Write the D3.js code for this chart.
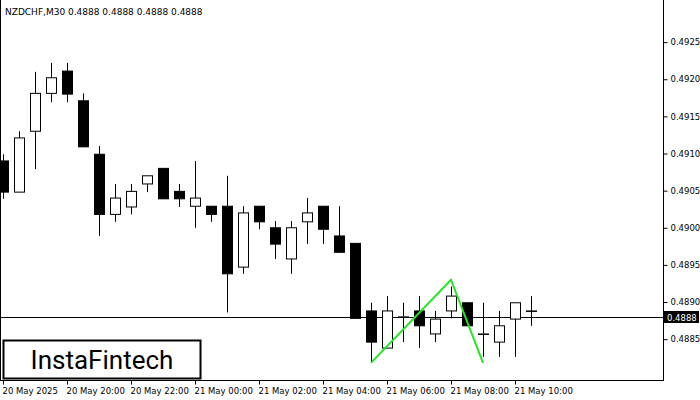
<!DOCTYPE html>
<html><head><meta charset="utf-8">
<script src="https://cdn.jsdelivr.net/npm/d3@7"></script>
<style>body{margin:0;background:#fff}svg{display:block}</style>
</head><body>
<svg id="c" width="700" height="400"></svg>
<script>
// 30-minute candles, 20 May 18:00 onwards
const opens  = [0.49090,0.49048,0.49130,0.49181,0.49211,0.49171,0.49099,0.49018,0.49028,0.49059,0.49080,0.49049,0.49029,0.49029,0.49029,0.48947,0.49029,0.49000,0.48958,0.49008,0.49029,0.48989,0.48979,0.48888,0.48838,0.48880,0.48888,0.48857,0.48888,0.48899,0.48857,0.48846,0.48877,0.48888]
const highs  = [0.49099,0.49130,0.49210,0.49222,0.49222,0.49181,0.49110,0.49059,0.49059,0.49070,0.49080,0.49059,0.49090,0.49029,0.49070,0.49029,0.49029,0.49009,0.49009,0.49040,0.49029,0.49029,0.48979,0.48899,0.48908,0.48899,0.48908,0.48888,0.48921,0.48899,0.48899,0.48888,0.48899,0.48908]
const lows   = [0.49039,0.49048,0.49079,0.49169,0.49169,0.49109,0.48989,0.49008,0.49018,0.49048,0.49039,0.49028,0.49000,0.49008,0.48886,0.48938,0.48998,0.48958,0.48938,0.48978,0.48978,0.48967,0.48878,0.48818,0.48838,0.48846,0.48838,0.48846,0.48878,0.48868,0.48826,0.48826,0.48826,0.48868]
const closes = [0.49048,0.49121,0.49181,0.49202,0.49180,0.49109,0.49018,0.49040,0.49049,0.49070,0.49039,0.49039,0.49040,0.49018,0.48938,0.49020,0.49008,0.48978,0.49000,0.49020,0.48998,0.48967,0.48878,0.48846,0.48888,0.48880,0.48868,0.48877,0.48908,0.48868,0.48857,0.48868,0.48899,0.48888]
const timeLabels = ['20 May 2025','20 May 20:00','20 May 22:00','21 May 00:00','21 May 02:00','21 May 04:00','21 May 06:00','21 May 08:00','21 May 10:00']
const timeLabelIdx = [0,4,8,12,16,20,24,28,32]
const priceTicks = [0.4885,0.4890,0.4895,0.4900,0.4905,0.4910,0.4915,0.4920,0.4925]
const patternIdx = [23,28,30]
const patternPrice = [0.48818,0.48930,0.48818]
const lastPrice = 0.4888

const svg = d3.select('#c')
const W = 663, plotTop = 5, plotBottom = 380
const x = d3.scaleLinear().domain([0, 1]).range([3, 19])
const y = d3.scaleLinear().domain([0.48795, 0.49300]).range([plotBottom, plotTop])
const font = 'DejaVu Sans, sans-serif'

const plot = svg.append('g')
plot.append('clipPath').attr('id', 'clip').append('rect').attr('x', 0).attr('y', plotTop).attr('width', W).attr('height', plotBottom - plotTop)
const cg = plot.append('g').attr('clip-path', 'url(#clip)')

// price line
cg.append('line').attr('x1', 0).attr('x2', W).attr('y1', Math.round(y(lastPrice)) + 0.5).attr('y2', Math.round(y(lastPrice)) + 0.5)
  .attr('stroke', '#000').attr('stroke-width', 1)

// candles
const data = opens.map((o, i) => ({ i, o, h: highs[i], l: lows[i], c: closes[i] }))
const cs = cg.selectAll('g.c').data(data).join('g')
cs.append('line')
  .attr('x1', d => Math.round(x(d.i)) + 0.5).attr('x2', d => Math.round(x(d.i)) + 0.5)
  .attr('y1', d => y(d.h)).attr('y2', d => y(d.l)).attr('stroke', '#000').attr('stroke-width', 1)
cs.append('rect')
  .attr('x', d => Math.round(x(d.i)) - 4.5).attr('width', 10)
  .attr('y', d => y(Math.max(d.o, d.c)))
  .attr('height', d => Math.max(0.5, Math.abs(y(d.o) - y(d.c))))
  .attr('fill', d => d.c < d.o ? '#000' : '#fff').attr('stroke', '#000').attr('stroke-width', 1)

// pattern
cg.append('path').datum(patternIdx.map((k, j) => [k, patternPrice[j]]))
  .attr('d', d3.line().x(d => x(d[0])).y(d => y(d[1])))
  .attr('fill', 'none').attr('stroke', '#22e622').attr('stroke-width', 2)

// frame
svg.append('line').attr('x1', W + 0.5).attr('x2', W + 0.5).attr('y1', 0).attr('y2', plotBottom + 1).attr('stroke', '#000')
svg.append('line').attr('x1', 0).attr('x2', W + 1).attr('y1', plotBottom + 0.5).attr('y2', plotBottom + 0.5).attr('stroke', '#000')
svg.append('line').attr('x1', 0.5).attr('x2', 0.5).attr('y1', 0).attr('y2', plotBottom).attr('stroke', '#000')

// right axis
const ra = svg.append('g').attr('transform', `translate(${W + 0.5},0)`)
  .call(d3.axisRight(y).tickValues(priceTicks).tickFormat(d3.format('.4f')).tickSize(4).tickPadding(3))
ra.select('.domain').remove()
ra.selectAll('text').attr('font-family', font).attr('font-size', 8.5).attr('fill', '#000')
const lp = svg.append('g').attr('transform', `translate(${W},${Math.round(y(lastPrice))})`)
lp.append('rect').attr('x', 1).attr('y', -6).attr('width', 35).attr('height', 12).attr('fill', '#000')
lp.append('text').attr('x', 4).attr('y', 4).attr('fill', '#fff').attr('font-family', font).attr('font-size', 8.5).text(d3.format('.4f')(lastPrice))

// bottom axis
const ba = svg.append('g').attr('transform', `translate(0,${plotBottom + 0.5})`)
  .call(d3.axisBottom(x).tickValues(timeLabelIdx).tickFormat((d, i) => timeLabels[i]).tickSize(4).tickPadding(3))
ba.select('.domain').remove()
ba.selectAll('.tick text').attr('text-anchor', 'start').attr('dx', -1).attr('font-family', font).attr('font-size', 8.5).attr('fill', '#000')

// title
svg.append('text').attr('x', 5).attr('y', 15).attr('font-family', font).attr('font-size', 9)
  .text('NZDCHF,M30  0.4888 0.4888 0.4888 0.4888')

// logo
svg.append('rect').attr('x', 3.5).attr('y', 340.5).attr('width', 197).attr('height', 38).attr('fill', '#fff').attr('stroke', '#000').attr('stroke-width', 2)
svg.append('text').attr('x', 102).attr('y', 369).attr('text-anchor', 'middle').attr('font-family', 'Roboto, sans-serif').attr('font-size', 26).text('InstaFintech')
</script>
</body></html>
